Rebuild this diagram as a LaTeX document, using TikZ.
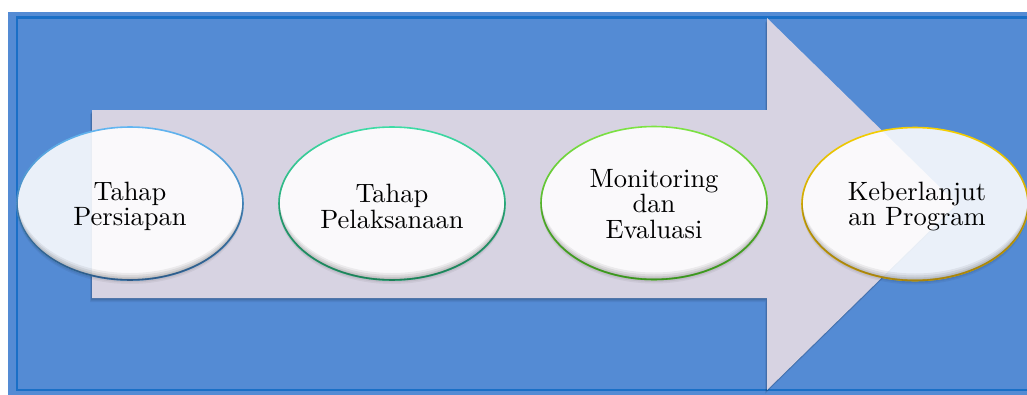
\documentclass[tikz,border=0pt]{standalone}
\usepackage{fontspec}
\newfontfamily\stagefont{lmroman10-regular.otf}
\usetikzlibrary{shapes.geometric,fadings}
\definecolor{bgblue}{HTML}{548BD4}
\definecolor{frameblue}{HTML}{1A6FC6}
\definecolor{arrowfill}{HTML}{D7D3E2}
\definecolor{rimAtop}{HTML}{62B6F2}
\definecolor{rimAbot}{HTML}{2E5A88}
\definecolor{rimBtop}{HTML}{3EDCA6}
\definecolor{rimBbot}{HTML}{1E8058}
\definecolor{rimCtop}{HTML}{7EE444}
\definecolor{rimCbot}{HTML}{3A9420}
\definecolor{rimDtop}{HTML}{F6D000}
\definecolor{rimDbot}{HTML}{A8820E}
% fading for the rim colour: darker towards the lower edge
\tikzfading[name=rimtone, top color=transparent!100, middle color=transparent!55, bottom color=transparent!0]
\tikzset{
  stage/.style={ellipse, minimum width=226pt, minimum height=153pt, inner sep=0pt,
                fill=white, fill opacity=0.88, line width=1.6pt},
  stagetext/.style={align=center, inner sep=0pt, text=black,
                    font=\stagefont\fontsize{26.5}{25.5}\selectfont},
  arrowshape/.style={fill=arrowfill}
}
\begin{document}
\begin{tikzpicture}[x=1pt,y=-1pt]
\useasboundingbox (0,0) rectangle (1027,394);
\clip (0,0) rectangle (1027,394);
% background panel and frame
\fill[bgblue] (8,12) rectangle (1040,400);
\draw[frameblue, line width=2.2pt] (17,17.5) rectangle (1045,390);
% soft shadow of the big arrow
\foreach \s/\o in {4/0.05,3/0.06,2/0.07,1/0.08}{
  \fill[black, opacity=\o, shift={(-\s*0.5,\s)}]
    (92,110) -- (767,110) -- (767,18) -- (957,204) -- (767,390) -- (767,298) -- (92,298) -- cycle;
}
% the big arrow
\fill[arrowshape] (92,110) -- (767,110) -- (767,18) -- (957,204) -- (767,390) -- (767,298) -- (92,298) -- cycle;
% stage ellipses
\foreach \n/\x/\y/\ct/\cb in {s1/130/203.5/rimAtop/rimAbot, s2/392/203.5/rimBtop/rimBbot,
                               s3/654/203/rimCtop/rimCbot, s4/915/204/rimDtop/rimDbot}{
  % drop shadow, kept outside the ellipse
  \begin{scope}[even odd rule]
    \clip (-20,-20) rectangle (1100,500) (\x,\y) ellipse [x radius=113, y radius=76.5];
    \foreach \s/\o in {4/0.05,2.5/0.06,1.2/0.07}{
      \fill[black, opacity=\o] (\x,\y+\s) ellipse [x radius=113, y radius=76.5];
    }
  \end{scope}
  \node[stage, draw=\ct] (\n) at (\x,\y) {};
  % soft inner shade along the lower rim
  \begin{scope}
    \clip (\n.center) ellipse [x radius=113, y radius=76.5];
    \foreach \s/\o in {7/0.06,5/0.07,3/0.08,1.5/0.08}{
      \fill[black, opacity=\o, even odd rule]
        (\x-130,\y-100) rectangle (\x+130,\y+100)
        (\x,\y-\s) ellipse [x radius=113, y radius=76.5];
    }
  \end{scope}
  \draw[\cb, line width=1.6pt, path fading=rimtone] (\n.center) ellipse [x radius=113, y radius=76.5];
}
% stage captions
\node[stagetext] (t1) at (130,206.5) {Tahap\\Persiapan};
\node[stagetext] (t2) at (392,206.5) {Tahap\\Pelaksanaan};
\node[stagetext] (t3) at (654,204) {Monitoring\\dan\\Evaluasi};
\node[stagetext] (t4) at (917,206.5) {Keberlanjut\\an Program};
\end{tikzpicture}
\end{document}
